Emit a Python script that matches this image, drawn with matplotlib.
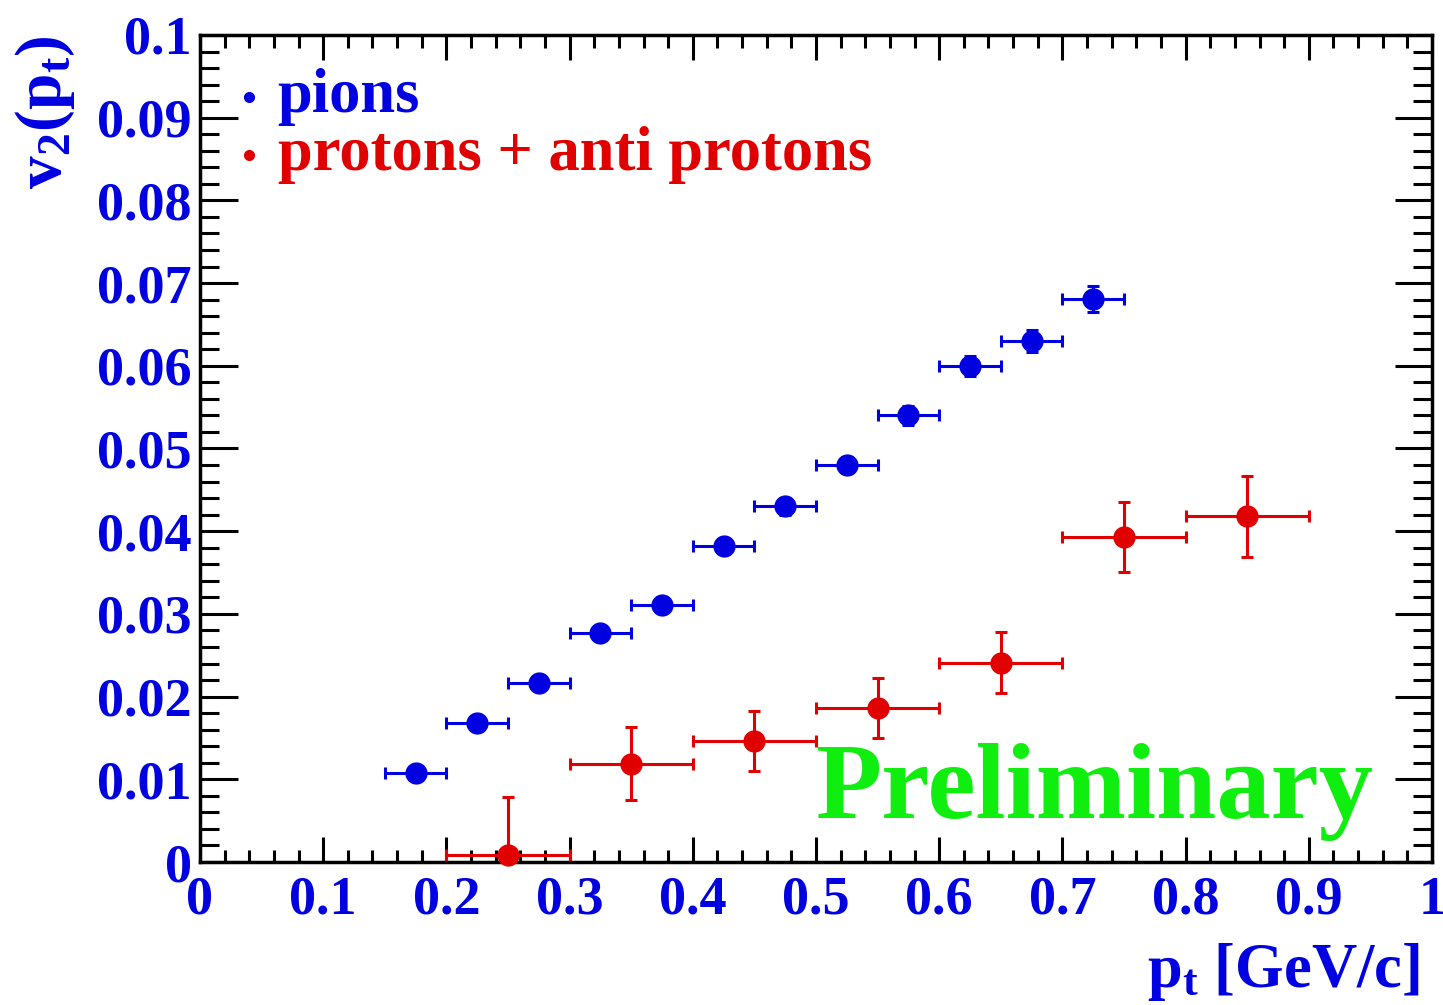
import matplotlib
matplotlib.use("Agg")
import matplotlib.pyplot as plt
from matplotlib.ticker import MultipleLocator

# pion v2 vs pt
pion_pt = [0.175, 0.225, 0.275, 0.325, 0.375, 0.425, 0.475, 0.525, 0.575, 0.625, 0.675, 0.725]
pion_v2 = [0.0108, 0.0168, 0.0216, 0.0277, 0.0311, 0.0382, 0.0430, 0.0480, 0.0540, 0.0600, 0.0630, 0.0681]
pion_pt_err = [0.025] * 12
pion_v2_err = [0.0007, 0.0007, 0.0008, 0.0008, 0.0009, 0.0009, 0.0010, 0.0010, 0.0011, 0.0012, 0.0013, 0.0016]

# protons + anti protons
prot_pt = [0.25, 0.35, 0.45, 0.55, 0.65, 0.75, 0.85]
prot_v2 = [0.0008, 0.0119, 0.0146, 0.0186, 0.0241, 0.0393, 0.0418]
prot_pt_err = [0.05] * 7
prot_v2_err_lo = [0.0008, 0.0044, 0.0036, 0.0036, 0.0037, 0.0042, 0.0049]
prot_v2_err_hi = [0.0070, 0.0044, 0.0036, 0.0036, 0.0037, 0.0042, 0.0049]

blue = "#0000e0"
red = "#e00000"
green = "#10ee10"
font = "Liberation Serif"

plt.rcParams["mathtext.fontset"] = "custom"
plt.rcParams["mathtext.bf"] = "Liberation Serif:bold"
plt.rcParams["mathtext.rm"] = "Liberation Serif:bold"
plt.rcParams["mathtext.it"] = "Liberation Serif:bold"

fig = plt.figure(figsize=(14.43, 10.05), dpi=100)
ax = fig.add_axes([200 / 1443, 143 / 1005, 1232 / 1443, 827 / 1005])

ax.errorbar(pion_pt, pion_v2, xerr=pion_pt_err, yerr=pion_v2_err, fmt="o", color=blue,
            ms=15, elinewidth=2.2, capsize=4, capthick=2.2, clip_on=False, zorder=3)
ax.errorbar(prot_pt, prot_v2, xerr=prot_pt_err, yerr=[prot_v2_err_lo, prot_v2_err_hi],
            fmt="o", color=red, ms=15, elinewidth=2.2, capsize=4, capthick=2.2,
            clip_on=False, zorder=3)

ax.set_xlim(0, 1)
ax.set_ylim(0, 0.1)

ax.xaxis.set_major_locator(MultipleLocator(0.1))
ax.xaxis.set_minor_locator(MultipleLocator(0.02))
ax.yaxis.set_major_locator(MultipleLocator(0.01))
ax.yaxis.set_minor_locator(MultipleLocator(0.002))
ax.xaxis.set_major_formatter(plt.FuncFormatter(lambda v, p: "%g" % round(v, 3)))
ax.yaxis.set_major_formatter(plt.FuncFormatter(lambda v, p: "%g" % round(v, 3)))

ax.tick_params(axis="both", which="both", direction="in", top=True, right=True, width=2.2)
ax.tick_params(axis="x", which="major", length=18, pad=10)
ax.tick_params(axis="x", which="minor", length=9)
ax.tick_params(axis="y", which="major", length=27, pad=6)
ax.tick_params(axis="y", which="minor", length=14)
for lab in ax.get_xticklabels() + ax.get_yticklabels():
    lab.set_fontfamily(font)
    lab.set_fontweight("bold")
    lab.set_fontsize(39)
    lab.set_color(blue)
for s in ax.spines.values():
    s.set_linewidth(2.5)

ax.set_xlabel(r"p$_\mathbf{t}$ [GeV/c]", fontfamily=font, fontweight="bold", fontsize=45,
              color=blue, ha="right")
ax.set_ylabel(r"v$_\mathbf{2}$(p$_\mathbf{t}$)", fontfamily=font, fontweight="bold",
              fontsize=47, color=blue, ha="right")
ax.xaxis.set_label_coords(0.99, -0.095)
ax.yaxis.set_label_coords(-0.1, 1.0)

# legend entries drawn as text with a dot marker
ax.plot([0.04], [0.0925], "o", color=blue, ms=7)
ax.text(0.063, 0.0925, "pions", fontfamily=font, fontweight="bold", fontsize=45,
        color=blue, va="center")
ax.plot([0.04], [0.0855], "o", color=red, ms=7)
ax.text(0.063, 0.0855, "protons + anti protons", fontfamily=font, fontweight="bold",
        fontsize=45, color=red, va="center")

ax.text(0.499, 0.0085, "Preliminary", fontfamily=font, fontweight="bold", fontsize=78,
        color=green, va="center")

fig.savefig("out.png", dpi=100)
